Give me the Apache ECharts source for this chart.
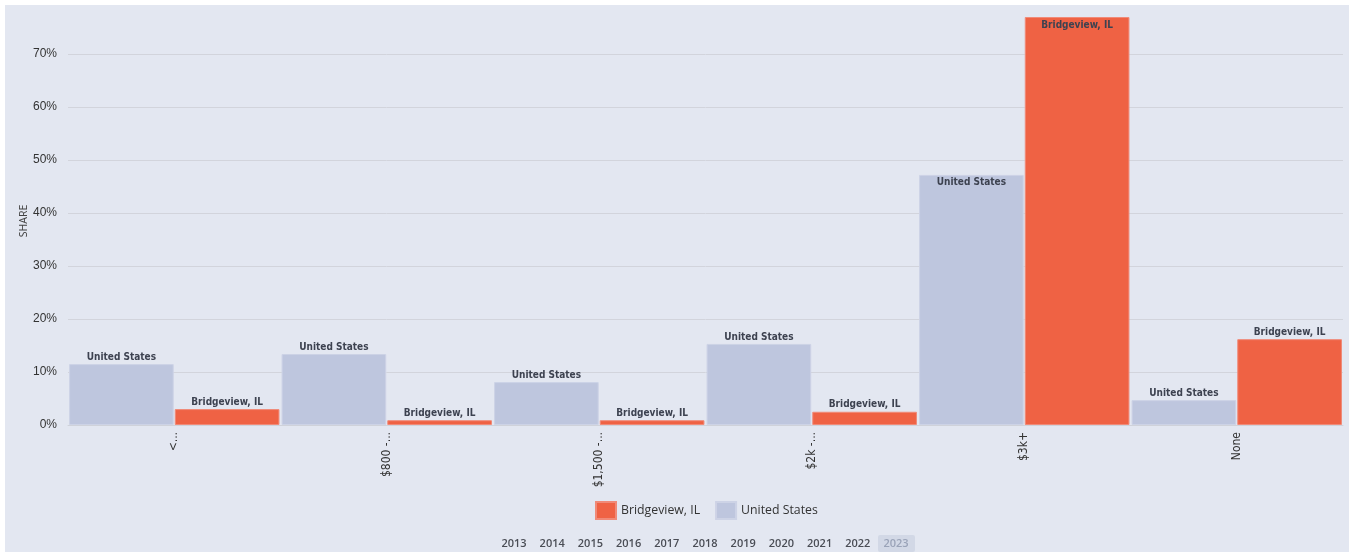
<!DOCTYPE html>
<html>
<head>
<meta charset="utf-8">
<script src="https://cdn.jsdelivr.net/npm/echarts@6/dist/echarts.min.js"></script>
<style>
html,body{margin:0;padding:0;background:#ffffff;}
#bg{position:absolute;left:5px;top:5px;width:1344px;height:547px;background:#e3e7f1;}
#chart{position:absolute;left:0;top:0;width:1351px;height:552px;}
</style>
</head>
<body>
<div id="bg"></div>
<div id="chart"></div>
<script>
const categories = ["<...", "$800 -...", "$1,500 -...", "$2k -...", "$3k+", "None"];
const unitedStates = [11.5, 13.4, 8.1, 15.3, 47.2, 4.7];
const bridgeview = [3.0, 0.9, 0.9, 2.5, 77.0, 16.2];
const yTicks = [0, 10, 20, 30, 40, 50, 60, 70];
const years = ["2013","2014","2015","2016","2017","2018","2019","2020","2021","2022","2023"];
const activeYear = "2023";

const condensed = "'DejaVu Sans Condensed', sans-serif";
const yMax = Math.max(...unitedStates, ...bridgeview);

const chart = echarts.init(document.getElementById('chart'), null, {renderer: 'canvas'});

const barLabel = (name) => ({
  show: true,
  position: 'top',
  distance: 2,
  formatter: name,
  fontFamily: condensed,
  fontWeight: 'bold',
  fontSize: 10,
  color: '#3d4250'
});

const insideIfTall = (arr) => arr.map(v => v > 40 ? {value: v, label: {position: 'insideTop', distance: 3}} : v);

const timelineGraphics = years.map((y, i) => {
  const cx = 514 + i * 38.2;
  const active = y === activeYear;
  const els = [];
  if (active) {
    els.push({type: 'rect', shape: {x: cx - 18, y: 535, width: 37, height: 17, r: 2}, style: {fill: '#d2d8e6'}, silent: true});
  }
  els.push({
    type: 'text', x: cx, y: 543.5,
    style: {text: y, fill: active ? '#9aa3b8' : '#4a4d55', font: "600 11px 'Open Sans', sans-serif", textAlign: 'center', textVerticalAlign: 'middle'},
    silent: true
  });
  return els;
}).flat();

chart.setOption({
  animation: false,
  backgroundColor: 'transparent',
  grid: {left: 68, right: 8, top: 17, bottom: 127, containLabel: false},
  legend: {
    data: ['Bridgeview, IL', 'United States'],
    left: 590, top: 496,
    itemWidth: 20, itemHeight: 17, itemGap: 15,
    icon: 'rect',
    textStyle: {fontFamily: "'Open Sans', sans-serif", fontSize: 12.3, color: '#333'}
  },
  xAxis: {
    type: 'category',
    data: categories,
    axisLine: {show: true, lineStyle: {color: '#cfd2da'}},
    axisTick: {show: false},
    axisLabel: {rotate: 90, fontFamily: condensed, fontSize: 12, color: '#333', margin: 7, interval: 0}
  },
  yAxis: {
    type: 'value',
    min: 0, max: yMax, interval: 10,
    name: 'SHARE', nameLocation: 'middle', nameGap: 38, nameMoveOverlap: false,
    nameTextStyle: {fontFamily: "'Noto Sans', sans-serif", fontSize: 10.5, color: '#444'},
    axisLine: {show: false}, axisTick: {show: false},
    axisLabel: {
      showMaxLabel: false,
      fontFamily: "'Liberation Sans', Arial, sans-serif", fontSize: 12, color: '#333', margin: 11,
      formatter: v => yTicks.includes(Math.round(v)) && Math.abs(v - Math.round(v)) < 1e-6 ? v + '%' : ''
    },
    splitLine: {show: true, showMaxLine: false, lineStyle: {color: '#d2d4dc', width: 1}}
  },
  series: [
    {
      name: 'United States', type: 'bar', data: insideIfTall(unitedStates),
      barGap: '1%', barCategoryGap: '1%',
      itemStyle: {color: '#bec6de', borderColor: '#cdd3e6', borderWidth: 1},
      label: barLabel('United States')
    },
    {
      name: 'Bridgeview, IL', type: 'bar', data: insideIfTall(bridgeview),
      barGap: '1%', barCategoryGap: '1%',
      itemStyle: {color: '#ef6244', borderColor: '#f08a78', borderWidth: 1},
      label: barLabel('Bridgeview, IL')
    }
  ],
  graphic: timelineGraphics
});
</script>
</body>
</html>
